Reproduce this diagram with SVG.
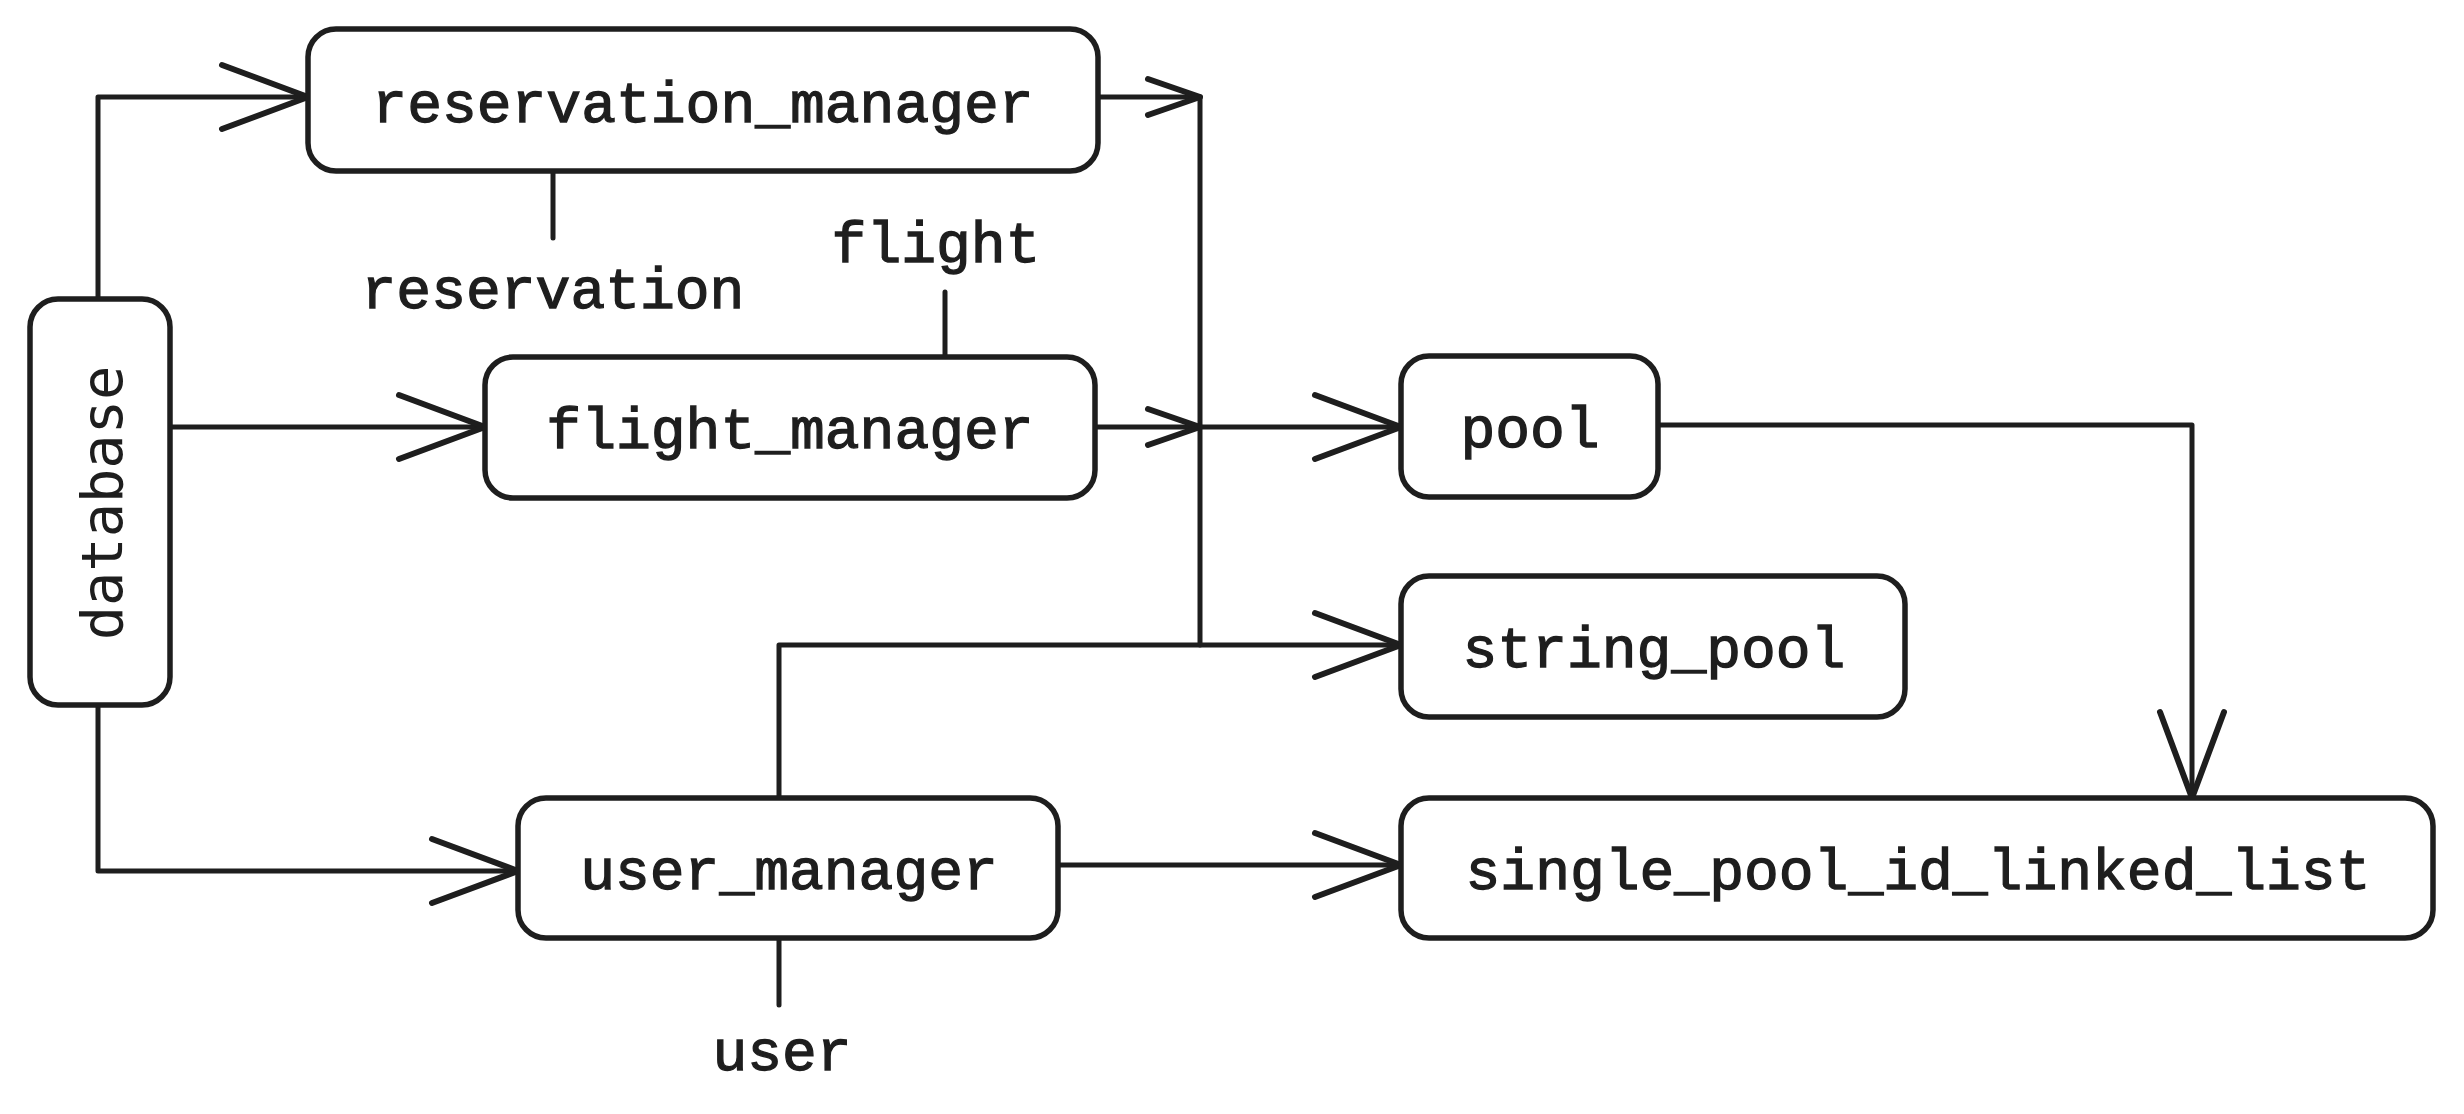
<svg xmlns="http://www.w3.org/2000/svg" width="2464" height="1114" viewBox="0 0 2464 1114">
<defs>
<style>
.box{fill:#ffffff;stroke:#1e1e1e;stroke-width:5.5}
.lbl{font-family:"Liberation Mono","DejaVu Sans Mono",monospace;font-size:58px;fill:#1e1e1e;stroke:#1e1e1e;stroke-width:1.3;text-anchor:middle}
.db{font-family:"DejaVu Sans Mono","Liberation Mono",monospace;font-size:57px;fill:#1e1e1e;text-anchor:middle}
.c{fill:none;stroke:#1e1e1e;stroke-width:5;stroke-linecap:round;stroke-linejoin:round}
</style>
<marker id="big" markerUnits="userSpaceOnUse" markerWidth="1" markerHeight="1" refX="0" refY="0" orient="auto" overflow="visible">
<path d="M-86,-32 L0,0 L-86,32" fill="none" stroke="#1e1e1e" stroke-width="6" stroke-linecap="round" stroke-linejoin="round"/>
</marker>
<marker id="small" markerUnits="userSpaceOnUse" markerWidth="1" markerHeight="1" refX="0" refY="0" orient="auto" overflow="visible">
<path d="M-52,-18 L0,0 L-52,18" fill="none" stroke="#1e1e1e" stroke-width="6" stroke-linecap="round" stroke-linejoin="round"/>
</marker>
</defs>
<rect width="2464" height="1114" fill="#ffffff"/>
<g id="connectors">
<path class="c" d="M98,299 L98,97 L308,97" marker-end="url(#big)"/>
<path class="c" d="M170,427 L485,427" marker-end="url(#big)"/>
<path class="c" d="M98,705 L98,871 L518,871" marker-end="url(#big)"/>
<path class="c" d="M1098,97 L1200,97" marker-end="url(#small)"/>
<path class="c" d="M1200,97 L1200,645"/>
<path class="c" d="M1095,427 L1200,427" marker-end="url(#small)"/>
<path class="c" d="M1200,427 L1401,427" marker-end="url(#big)"/>
<path class="c" d="M779,798 L779,645 L1401,645" marker-end="url(#big)"/>
<path class="c" d="M1058,865 L1401,865" marker-end="url(#big)"/>
<path class="c" d="M1658,425 L2192,425 L2192,798" marker-end="url(#big)"/>
<path class="c" d="M553,171 L553,238"/>
<path class="c" d="M945,292 L945,357"/>
<path class="c" d="M779,938 L779,1005"/>
<text class="lbl" x="553" y="308">reservation</text>
<text class="lbl" x="936" y="262">flight</text>
<text class="lbl" x="782" y="1070">user</text>
</g>
<g id="reservation_manager">
<rect class="box" x="308" y="29" width="790" height="142" rx="28"/>
<text class="lbl" x="703" y="122">reservation_manager</text>
</g>
<g id="database">
<rect class="box" x="30" y="299" width="140" height="406" rx="28"/>
<text class="db" transform="translate(122,503) rotate(-90)" x="0" y="0">database</text>
</g>
<g id="flight_manager">
<rect class="box" x="485" y="357" width="610" height="141" rx="28"/>
<text class="lbl" x="790" y="448">flight_manager</text>
</g>
<g id="pool">
<rect class="box" x="1401" y="356" width="257" height="141" rx="28"/>
<text class="lbl" x="1530" y="447">pool</text>
</g>
<g id="string_pool">
<rect class="box" x="1401" y="576" width="504" height="141" rx="28"/>
<text class="lbl" x="1654" y="667">string_pool</text>
</g>
<g id="user_manager">
<rect class="box" x="518" y="798" width="540" height="140" rx="28"/>
<text class="lbl" x="789" y="889">user_manager</text>
</g>
<g id="single_pool_id_linked_list">
<rect class="box" x="1401" y="798" width="1032" height="140" rx="28"/>
<text class="lbl" x="1918" y="889">single_pool_id_linked_list</text>
</g>
</svg>
